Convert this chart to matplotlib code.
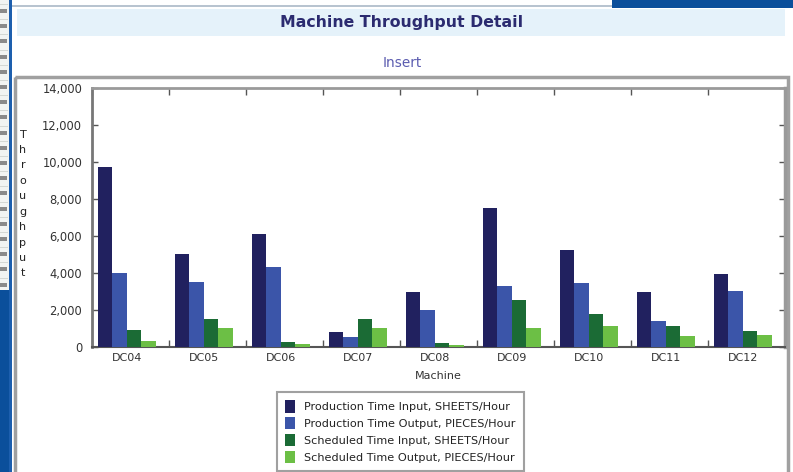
import matplotlib
matplotlib.use("Agg")
import matplotlib.pyplot as plt
from matplotlib.patches import Rectangle
import numpy as np

machines = ["DC04", "DC05", "DC06", "DC07", "DC08", "DC09", "DC10", "DC11", "DC12"]
prod_input = [9750, 5050, 6100, 800, 3000, 7500, 5250, 3000, 3950]
prod_output = [4000, 3500, 4350, 550, 2000, 3300, 3450, 1400, 3050]
sched_input = [900, 1500, 250, 1500, 200, 2550, 1800, 1150, 850]
sched_output = [350, 1050, 150, 1050, 100, 1050, 1150, 600, 650]
series_names = ["Production Time Input, SHEETS/Hour",
                "Production Time Output, PIECES/Hour",
                "Scheduled Time Input, SHEETS/Hour",
                "Scheduled Time Output, PIECES/Hour"]
series_colors = ["#21215f", "#3b55a9", "#1b6b35", "#6cbf45"]
yticks = [0, 2000, 4000, 6000, 8000, 10000, 12000, 14000]

W, H = 793, 472
fig = plt.figure(figsize=(W / 100, H / 100), dpi=100)
fig.patch.set_facecolor("white")

# background decoration axes in pixel coords
bg = fig.add_axes([0, 0, 1, 1], zorder=0)
bg.set_xlim(0, W)
bg.set_ylim(H, 0)
bg.axis("off")

def rect(x, y, w, h, fc, ec="none", lw=0, z=1):
    bg.add_patch(Rectangle((x, y), w, h, facecolor=fc, edgecolor=ec, linewidth=lw, zorder=z))

# left strip (page behind)
rect(0, 0, 9, 290, "#f2f4f2")
for k in range(19):
    yy = 4 + k * 15.2
    rect(0, yy, 8, 1, "#d4d8d4")
    rect(0, yy + 5, 7, 4, "#8a8a8a")
rect(0, 290, 9, H - 290, "#0b4f9b")
rect(9, 0, 3, H, "#1d5fae")
# top strip
rect(12, 5, 600, 1.5, "#b8c4d0")
rect(612, 0, W - 612, 8, "#0b4f9b")
# title band
rect(17, 9, 768, 27, "#e5f2fa")
bg.text(402, 22.5, "Machine Throughput Detail", ha="center", va="center",
        fontsize=11.3, fontweight="bold", color="#2b2b70", family="DejaVu Sans")
bg.text(402, 63, "Insert", ha="center", va="center",
        fontsize=9.8, color="#5b5cb0", family="DejaVu Sans")
# chart panel border
rect(15, 77, 773, 420, "none", ec="#a0a0a0", lw=2.5, z=2)

# vertical stacked y label
bg.text(23, 204, "\n".join("Throughput"), ha="center", va="center",
        fontsize=8, color="#222222", linespacing=1.68, family="DejaVu Sans")

# chart axes
left, right, top, bottom = 92, 785, 88, 347
ax = fig.add_axes([left / W, 1 - bottom / H, (right - left) / W, (bottom - top) / H], zorder=2)
ax.set_facecolor("white")

x = np.arange(len(machines))
bw = 0.188
start = -0.422
all_series = [prod_input, prod_output, sched_input, sched_output]
handles = []
for j, (vals, col, name) in enumerate(zip(all_series, series_colors, series_names)):
    b = ax.bar(x + start + j * bw, vals, width=bw, align="edge", color=col,
               edgecolor="none", label=name, zorder=3)
    handles.append(b)

ax.set_xlim(-0.5, len(machines) - 0.5)
ax.set_ylim(0, 14000)
ax.set_yticks(yticks)
ax.set_yticklabels([f"{v:,}" for v in yticks], fontsize=8.3, color="#333333", family="DejaVu Sans")
ax.set_xticks(x + start + 2 * bw)
ax.set_xticklabels(machines, fontsize=8, color="#333333", family="DejaVu Sans")
ax.set_xticks(np.arange(-0.5, len(machines) + 0.5, 1.0), minor=True)
ax.tick_params(axis="x", which="major", length=0, pad=4)
ax.tick_params(axis="x", which="minor", direction="in", length=5, width=1,
               color="#555555", top=True, bottom=True)
ax.tick_params(axis="y", which="major", direction="in", length=4, width=1,
               color="#555555", left=True, right=True, pad=7)
ax.set_xlabel("Machine", fontsize=8, color="#333333", labelpad=6, family="DejaVu Sans")

for side, col, lw in [("left", "#777777", 2.0), ("bottom", "#555555", 1.5),
                      ("top", "#9a9a9a", 2.0), ("right", "#9a9a9a", 2.5)]:
    ax.spines[side].set_color(col)
    ax.spines[side].set_linewidth(lw)

leg = fig.legend(handles=handles, loc="upper left",
                 bbox_to_anchor=(277 / W, 1 - 392 / H), bbox_transform=fig.transFigure,
                 prop={"family": "DejaVu Sans", "size": 8.1},
                 frameon=True, fancybox=False, edgecolor="#888888",
                 handlelength=0.85, handleheight=1.3, handletextpad=0.8,
                 labelspacing=0.4, borderpad=0.75, borderaxespad=0)
leg.get_frame().set_linewidth(1.5)
for t in leg.get_texts():
    t.set_color("#222222")

fig.savefig("out.png", dpi=100)
